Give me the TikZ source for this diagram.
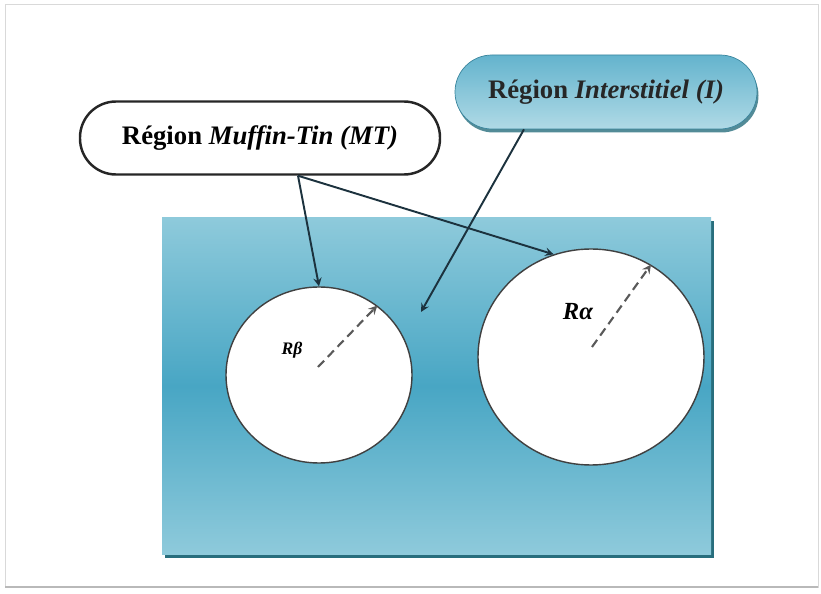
\documentclass[tikz,border=0pt]{standalone}
\usepackage{fontspec}
\setmainfont{Liberation Serif}
\usetikzlibrary{shapes.geometric, shadows}
\definecolor{boxlight}{RGB}{142,202,219}
\definecolor{boxdark}{RGB}{72,166,196}
\definecolor{edgeteal}{RGB}{40,110,125}
\definecolor{arrowink}{RGB}{28,50,62}
\tikzset{
  regionlabel/.style={font=\fontsize{15.2}{17}\selectfont\bfseries},
  pointer/.style={->,line width=1.1pt,arrowink},
  radiusarrow/.style={->,line width=1.2pt,black!65,dash pattern=on 5pt off 3pt},
  sphere/.style={ellipse,draw=black!75,fill=white,line width=0.8pt}
}
\begin{document}
\begin{tikzpicture}[>=stealth]
  \useasboundingbox (0,0) rectangle (16.42,11.86);
  % page frame
  \draw[gray!30] (0.1,0.12) rectangle (16.36,11.78);
  \draw[gray!55,line width=1.2pt] (0.1,0.12) -- (16.36,0.12);
  % interstitial box with shadow edge
  \fill[edgeteal] (3.3,0.7) rectangle (14.28,7.44);
  \shade[top color=boxlight,bottom color=boxlight,middle color=boxdark] (3.24,0.78) rectangle (14.22,7.5);
  % muffin-tin spheres
  \node[sphere,minimum width=3.72cm,minimum height=3.52cm] (beta) at (6.38,4.36) {};
  \node[sphere,minimum width=4.52cm,minimum height=4.32cm] (alpha) at (11.82,4.72) {};
  % radii
  \coordinate (bc) at (6.36,4.52);
  \coordinate (ac) at (11.84,4.92);
  \draw[radiusarrow] (bc) -- (beta.50);
  \draw[radiusarrow] (ac) -- (alpha.57);
  \node[font=\fontsize{10}{12}\selectfont\bfseries\itshape] (rb) at (5.84,4.86) {Rβ};
  \node[font=\fontsize{14}{16}\selectfont\bfseries\itshape] (ra) at (11.56,5.62) {Rα};
  % labels
  \node[regionlabel,draw=black!85,line width=1.4pt,fill=white,rounded corners=0.72cm,
        minimum width=7.2cm,minimum height=1.46cm] (mt) at (5.2,9.1) {Région \textit{Muffin-Tin (MT)}};
  \node[regionlabel,text=black!85,draw=boxdark!80!black,top color=boxdark!85,bottom color=boxlight!70!white,
        rounded corners=0.74cm,minimum width=6.04cm,minimum height=1.48cm,
        drop shadow={shadow xshift=0.03cm,shadow yshift=-0.07cm,fill=edgeteal,opacity=0.8}] (inter) at (12.12,10.02) {Région \textit{Interstitiel (I)}};
  % pointers
  \coordinate (mtfoot) at ([xshift=0.76cm]mt.south);
  \coordinate (gap) at (8.42,5.62);
  \draw[pointer] (mtfoot) -- (beta.north);
  \draw[pointer] (mtfoot) -- (alpha.110);
  \draw[pointer] ([xshift=-1.64cm]inter.south) -- (gap);
\end{tikzpicture}
\end{document}
